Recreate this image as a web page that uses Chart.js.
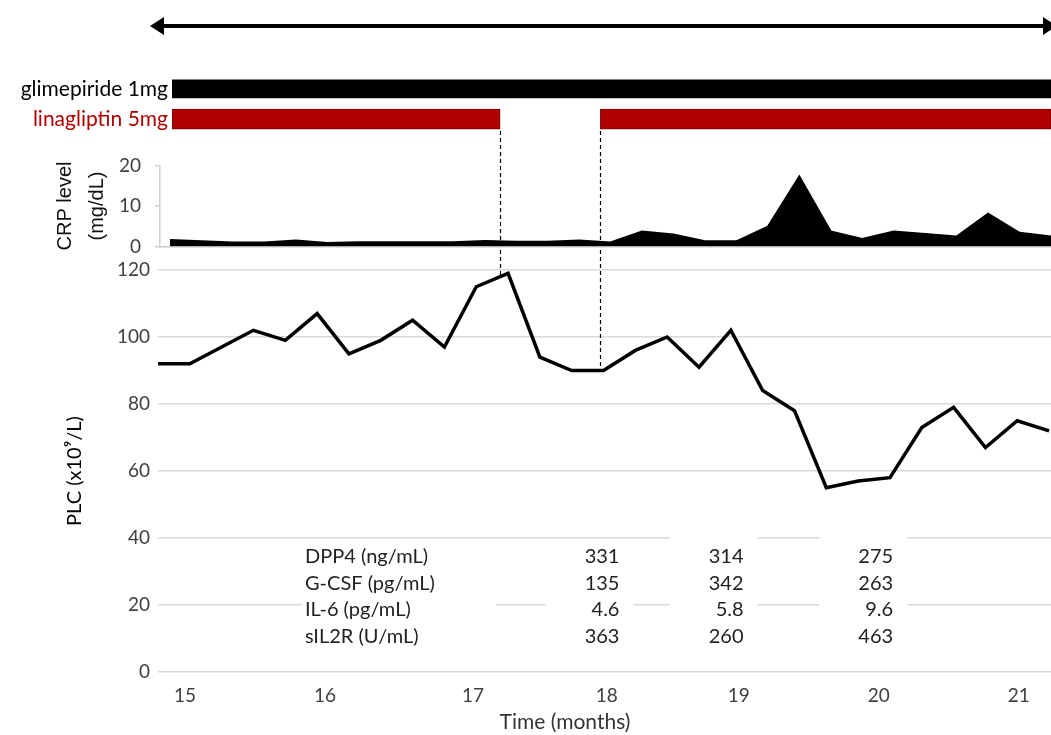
<!DOCTYPE html>
<html>
<head>
<meta charset="utf-8">
<script src="https://cdn.jsdelivr.net/npm/chart.js@4.4.1/dist/chart.umd.min.js"></script>
<style>
  html, body { margin: 0; padding: 0; background: #fff; }
  #wrap { position: relative; width: 1051px; height: 735px; overflow: hidden; }
  canvas { position: absolute; left: 0; }
  #plcChart { top: 0; }
  #crpChart { top: 140px; }
  #drugChart { top: 57px; }
</style>
</head>
<body>
<div id="wrap">
  <canvas id="plcChart" width="1051" height="735"></canvas>
  <canvas id="crpChart" width="1051" height="132"></canvas>
  <canvas id="drugChart" width="1051" height="94"></canvas>
</div>
<script>
// samples are evenly spaced, x is the sample index
const plcValues = [92, 92, 97, 102, 99, 107, 95, 99, 105, 97, 115, 119, 94, 90, 90,
                   96, 100, 91, 102, 84, 78, 55, 57, 58, 73, 79, 67, 75, 72];
const crpValues = [1.6, 1.3, 1.0, 1.0, 1.5, 0.9, 1.1, 1.1, 1.1, 1.1, 1.4, 1.2, 1.2, 1.5, 1.0,
                   3.7, 3.0, 1.3, 1.3, 4.9, 17.3, 3.7, 1.9, 3.7, 3.1, 2.5, 8.1, 3.4, 2.5];

// month tick labels and where they sit (sample index units)
const monthLabels = ['15', '16', '17', '18', '19', '20', '21'];
const monthTickPos = [0.85, 5.25, 9.9, 14.1, 18.25, 22.65, 27.05];

// treatments (sample index units)
const drugNames = ['glimepiride 1mg', 'linagliptin 5mg'];
const drugColors = ['#000000', '#b00000'];
const glimepiridePeriods = [[0.44, 28.06]];
const linagliptinPeriods = [[0.44, 10.75], [13.9, 28.06]];

// lab table
const tableRows = ['DPP4 (ng/mL)', 'G-CSF (pg/mL)', 'IL-6 (pg/mL)', 'sIL2R (U/mL)'];
const tableTimes = [14.5, 18.4, 23.1];
const tableValues = [
  ['331', '314', '275'],
  ['135', '342', '263'],
  ['4.6', '5.8', '9.6'],
  ['363', '260', '463']
];

const X_MAX = 28.06;
const CRP_X_MIN = -0.318;
const FONT = 'Lato';
const TICK_COLOR = '#404040';

// value of the PLC line at a fractional sample position
function plcAt(v) {
  const i = Math.max(0, Math.min(plcValues.length - 2, Math.floor(v)));
  const t = v - i;
  return plcValues[i] + (plcValues[i + 1] - plcValues[i]) * t;
}

const decorPlugin = {
  id: 'decor',
  beforeDatasetsDraw(chart) {
    const ctx = chart.ctx;
    const xs = chart.scales.x;
    const top = 557, rowH = 26.5;
    ctx.save();
    ctx.fillStyle = '#fff';
    // white boxes behind the table text (they break the grid lines)
    ctx.fillRect(302, 545, 194, 105);
    tableTimes.forEach((t, c) => {
      const r = xs.getPixelForValue(t);
      const boxTop = c === 0 ? 545 : 530;
      ctx.fillRect(r - 74, boxTop, 88, 650 - boxTop);
    });
    ctx.fillStyle = '#222';
    ctx.font = '20px ' + FONT;
    ctx.textBaseline = 'middle';
    tableRows.forEach((name, r) => {
      const y = top + r * rowH;
      ctx.textAlign = 'left';
      ctx.fillText(name, 305, y);
      ctx.textAlign = 'right';
      tableValues[r].forEach((val, c) => {
        ctx.fillText(val, xs.getPixelForValue(tableTimes[c]), y);
      });
    });
    ctx.restore();
  },
  afterDraw(chart) {
    const ctx = chart.ctx;
    const xs = chart.scales.x, ys = chart.scales.y;
    ctx.save();
    // x axis title
    ctx.fillStyle = '#333';
    ctx.font = '21px ' + FONT;
    ctx.textAlign = 'center';
    ctx.textBaseline = 'middle';
    ctx.fillText('Time (months)', 565, 722);
    // study period arrow
    const ay = 26;
    ctx.strokeStyle = '#000';
    ctx.fillStyle = '#000';
    ctx.lineWidth = 4;
    ctx.beginPath();
    ctx.moveTo(160, ay);
    ctx.lineTo(1045, ay);
    ctx.stroke();
    ctx.beginPath();
    ctx.moveTo(150, ay);
    ctx.lineTo(164, ay - 9);
    ctx.lineTo(164, ay + 9);
    ctx.closePath();
    ctx.fill();
    ctx.beginPath();
    ctx.moveTo(1057, ay);
    ctx.lineTo(1043, ay - 9);
    ctx.lineTo(1043, ay + 9);
    ctx.closePath();
    ctx.fill();
    // dashed lines where linagliptin stops and restarts
    ctx.lineWidth = 1.2;
    ctx.setLineDash([4, 3]);
    [linagliptinPeriods[0][1], linagliptinPeriods[1][0]].forEach(v => {
      const x = Math.round(xs.getPixelForValue(v)) + 0.5;
      ctx.beginPath();
      ctx.moveTo(x, 131);
      ctx.lineTo(x, ys.getPixelForValue(plcAt(v)));
      ctx.stroke();
    });
    ctx.restore();
  }
};

new Chart(document.getElementById('plcChart'), {
  type: 'line',
  data: {
    datasets: [{
      data: plcValues.map((v, i) => ({ x: i, y: v })),
      borderColor: '#000',
      borderWidth: 3.5,
      pointRadius: 0,
      tension: 0,
      fill: false
    }]
  },
  options: {
    responsive: false,
    animation: false,
    devicePixelRatio: 1,
    layout: { padding: { top: 270, left: 0, right: 0, bottom: 0 } },
    plugins: { legend: { display: false }, tooltip: { enabled: false } },
    scales: {
      x: {
        type: 'linear',
        min: 0,
        max: X_MAX,
        grid: { display: false, drawTicks: false },
        border: { display: false },
        afterBuildTicks: s => { s.ticks = monthTickPos.map(v => ({ value: v })); },
        ticks: {
          autoSkip: false,
          maxRotation: 0,
          padding: 12,
          color: TICK_COLOR,
          font: { family: FONT, size: 19 },
          callback: (v, i) => monthLabels[i]
        },
        afterFit: s => { s.height = 63; }
      },
      y: {
        min: 0,
        max: 120,
        ticks: { stepSize: 20, padding: 8, color: TICK_COLOR, font: { family: FONT, size: 19 } },
        grid: { color: '#d9d9d9', lineWidth: 1.5, drawTicks: false },
        border: { display: false },
        title: {
          display: true,
          text: 'PLC (x10⁹/L)',
          color: '#000',
          font: { family: FONT, size: 20 },
          padding: { top: 63, bottom: 0 }
        },
        afterFit: s => { s.width = 158; }
      }
    }
  },
  plugins: [decorPlugin]
});

new Chart(document.getElementById('crpChart'), {
  type: 'line',
  data: {
    datasets: [{
      data: crpValues.map((v, i) => ({ x: i, y: v })),
      borderColor: '#000',
      backgroundColor: '#000',
      borderWidth: 2,
      pointRadius: 0,
      tension: 0,
      fill: 'origin'
    }]
  },
  options: {
    responsive: false,
    animation: false,
    devicePixelRatio: 1,
    layout: { padding: { top: 25, left: 0, right: 0, bottom: 0 } },
    plugins: { legend: { display: false }, tooltip: { enabled: false } },
    scales: {
      x: {
        type: 'linear',
        min: CRP_X_MIN,
        max: 28,
        ticks: { display: false },
        grid: { display: false, drawTicks: false },
        border: { display: true, color: '#c8c8c8', width: 1.5 },
        afterFit: s => { s.height = 15; }
      },
      y: {
        min: 0,
        max: 20,
        ticks: { stepSize: 10, padding: 14, color: TICK_COLOR, font: { family: FONT, size: 19 } },
        grid: { drawOnChartArea: false, drawTicks: true, tickLength: 5, color: '#d0d0d0', lineWidth: 1.5 },
        border: { display: true, color: '#d0d0d0', width: 1.5 },
        title: {
          display: true,
          text: ['CRP level', '(mg/dL)'],
          color: '#111',
          font: { family: 'Liberation Sans', size: 20, lineHeight: 1.6 },
          padding: { top: 49, bottom: 0 }
        },
        afterFit: s => { s.width = 160; }
      }
    }
  }
});

new Chart(document.getElementById('drugChart'), {
  type: 'bar',
  data: {
    labels: drugNames,
    datasets: [{
      data: glimepiridePeriods.map(p => ({ x: p, y: drugNames[0] })),
      backgroundColor: drugColors[0],
      barThickness: 18,
      grouped: false
    }, {
      data: linagliptinPeriods.map(p => ({ x: p, y: drugNames[1] })),
      backgroundColor: drugColors[1],
      borderColor: '#7a0000',
      borderWidth: 1,
      borderSkipped: false,
      barThickness: 20,
      grouped: false
    }]
  },
  options: {
    indexAxis: 'y',
    responsive: false,
    animation: false,
    devicePixelRatio: 1,
    layout: { padding: { top: 16, left: 0, right: 0, bottom: 16 } },
    plugins: { legend: { display: false }, tooltip: { enabled: false } },
    scales: {
      x: { type: 'linear', min: glimepiridePeriods[0][0], max: X_MAX, display: false },
      y: {
        type: 'category',
        offset: true,
        grid: { display: false, drawTicks: false },
        border: { display: false },
        ticks: {
          padding: 4,
          font: { family: FONT, size: 21 },
          color: c => drugColors[c.index]
        },
        afterFit: s => { s.width = 172; }
      }
    }
  }
});
</script>
</body>
</html>
